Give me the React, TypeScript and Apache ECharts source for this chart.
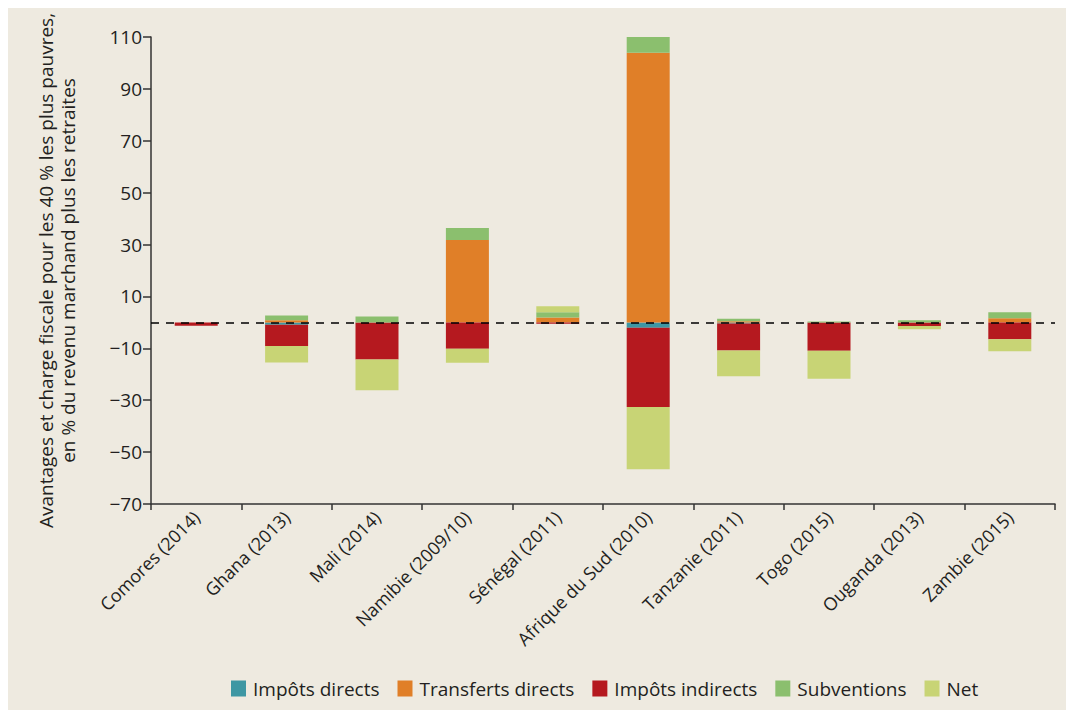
import React, { useEffect, useRef } from "react";
import * as echarts from "echarts";

const categories = [
  "Comores (2014)",
  "Ghana (2013)",
  "Mali (2014)",
  "Namibie (2009/10)",
  "Sénégal (2011)",
  "Afrique du Sud (2010)",
  "Tanzanie (2011)",
  "Togo (2015)",
  "Ouganda (2013)",
  "Zambie (2015)",
];

const impotsDirects = [0, -0.9, 0, 0, 0, -2.1, -0.4, 0, 0, 0];
const transfertsDirects = [0, 0.8, 0, 31.8, 1.9, 103.9, 0.4, 0, 0, 1.6];
const impotsIndirects = [-1.3, -8.2, -14.3, -10.2, -0.5, -30.5, -10.4, -10.9, -1.4, -6.5];
const subventions = [0, 1.9, 2.3, 4.6, 2.0, 7.3, 1.0, 0.3, 0.8, 2.3];
const net = [0, -6.4, -11.9, -5.4, 2.3, -24.0, -10.0, -10.8, -1.2, -4.6];

const seriesNames = ["Impôts directs", "Transferts directs", "Impôts indirects", "Subventions", "Net"];
const seriesColors = ["#3E97A3", "#E07F28", "#B5191F", "#8BBF6E", "#C8D475"];
const seriesData = [impotsDirects, transfertsDirects, impotsIndirects, subventions, net];

const FONT = "'Open Sans', 'Noto Sans', sans-serif";
const TEXT = "#231F20";

export default function App() {
  const ref = useRef<HTMLDivElement>(null);

  useEffect(() => {
    if (!ref.current) return;
    const chart = echarts.init(ref.current, undefined, { renderer: "svg" });
    const series: any[] = seriesNames.map((name, i) => ({
      name,
      type: "bar",
      stack: "total",
      data: seriesData[i],
      barWidth: 43,
      itemStyle: { color: seriesColors[i] },
      emphasis: { disabled: true },
    }));
    series[series.length - 1].markLine = {
      silent: true,
      symbol: "none",
      label: { show: false },
      z: 10,
      lineStyle: { color: "#000", type: [8, 7], width: 1.5 },
      data: [{ yAxis: 0 }],
    };
    chart.setOption({
      animation: false,
      backgroundColor: "transparent",
      textStyle: { fontFamily: FONT, color: TEXT },
      grid: { left: 143, right: 11, top: 29, bottom: 206, containLabel: false },
      legend: {
        data: seriesNames,
        bottom: 7,
        left: 218,
        itemWidth: 15,
        itemHeight: 16,
        itemGap: 18,
        icon: "rect",
        textStyle: { fontFamily: FONT, fontSize: 19, color: TEXT, padding: [0, 0, 0, 2] },
      },
      xAxis: {
        type: "category",
        data: categories,
        axisLine: { onZero: false, lineStyle: { color: "#333", width: 1.5 } },
        axisTick: { show: true, alignWithLabel: false, length: 6, lineStyle: { color: "#333", width: 1.5 } },
        axisLabel: {
          rotate: 45,
          interval: 0,
          fontFamily: FONT,
          fontSize: 18,
          color: TEXT,
          margin: 10,
        },
      },
      yAxis: {
        type: "value",
        min: -70,
        max: 110,
        interval: 20,
        name: "Avantages et charge fiscale pour les 40 % les plus pauvres,\nen % du revenu marchand plus les retraites",
        nameLocation: "middle",
        nameGap: 72,
        nameRotate: 90,
        nameTextStyle: { fontFamily: FONT, fontSize: 19, color: TEXT, lineHeight: 22, align: "center" },
        axisLine: { show: true, lineStyle: { color: "#333", width: 1.5 } },
        axisTick: { show: true, length: 8, lineStyle: { color: "#333", width: 1.5 } },
        axisLabel: {
          fontFamily: FONT,
          fontSize: 19,
          color: TEXT,
          margin: 9,
          formatter: (v: number) => (v < 0 ? "\u2212" + Math.abs(v) : String(v)),
        },
        splitLine: { show: false },
      },
      series,
    });
    return () => chart.dispose();
  }, []);

  return (
    <div
      style={{
        position: "fixed",
        left: 8,
        top: 8,
        right: 0,
        bottom: 0,
        background: "#EEEAE0",
      }}
    >
      <div ref={ref} style={{ width: 1058, height: 702 }} />
    </div>
  );
}
